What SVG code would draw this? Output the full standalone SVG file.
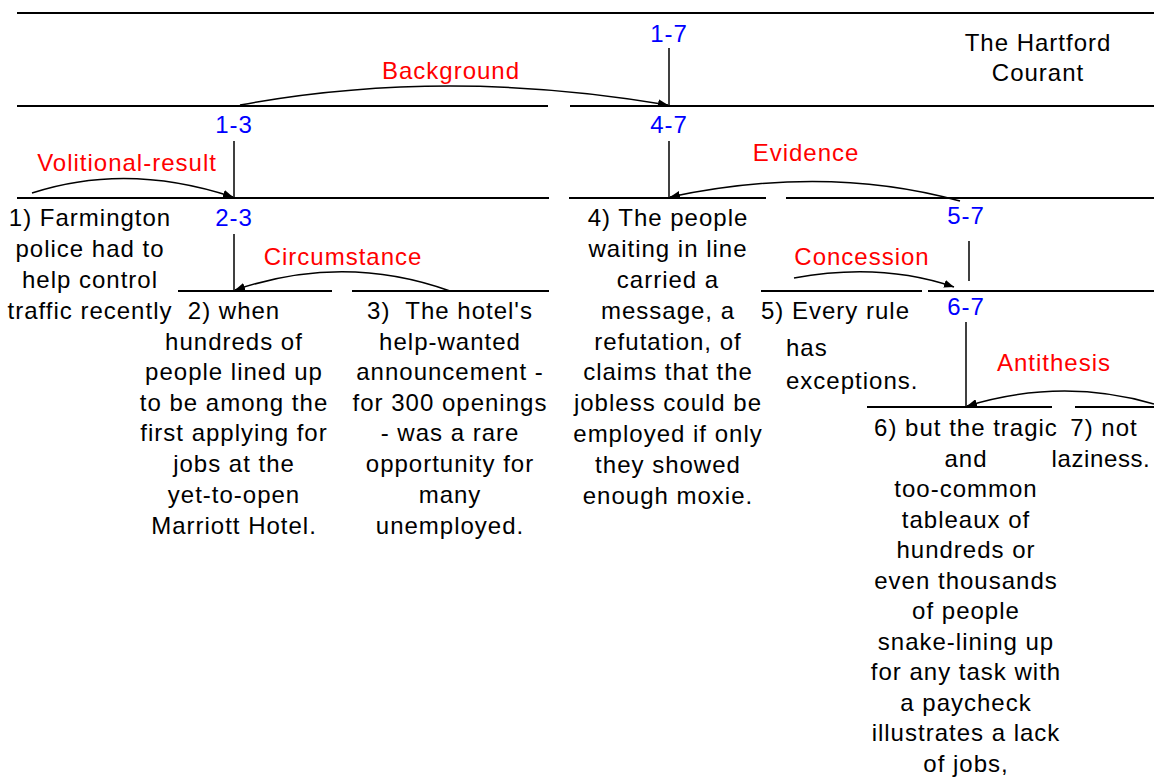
<svg xmlns="http://www.w3.org/2000/svg" width="1154" height="778" viewBox="0 0 1154 778">
<style>
text{font-family:"Liberation Sans",Arial,sans-serif;font-size:24px;letter-spacing:1px;text-anchor:middle;fill:#000}
.span{fill:#0000ff}
.rel{fill:#ff0000}
.h{stroke:#000;stroke-width:2;fill:none}
.v{stroke:#000;stroke-width:1.5;fill:none}
.arc{stroke:#000;stroke-width:1.5;fill:none;marker-end:url(#ah)}
</style>
<defs>
<marker id="ah" viewBox="0 0 10 8" refX="10" refY="4" markerWidth="10" markerHeight="8" markerUnits="userSpaceOnUse" orient="auto">
<path d="M0,0 L10,4 L0,8 z" fill="#000"/>
</marker>
</defs>
<rect width="1154" height="778" fill="#fff"/>
<g id="title">
<text x="1038" y="51">The Hartford</text>
<text x="1038" y="81">Courant</text>
</g>
<g id="lines">
<line class="h" x1="17" y1="13" x2="1154" y2="13"/>
<line class="h" x1="17" y1="106" x2="548" y2="106"/>
<line class="h" x1="570" y1="106" x2="1154" y2="106"/>
<line class="h" x1="17" y1="198" x2="549" y2="198"/>
<line class="h" x1="569" y1="198" x2="766" y2="198"/>
<line class="h" x1="786" y1="198" x2="1154" y2="198"/>
<line class="h" x1="178" y1="291" x2="332" y2="291"/>
<line class="h" x1="352" y1="291" x2="549" y2="291"/>
<line class="h" x1="761" y1="291" x2="922" y2="291"/>
<line class="h" x1="928" y1="291" x2="1154" y2="291"/>
<line class="h" x1="867" y1="407" x2="1052" y2="407"/>
<line class="h" x1="1075" y1="407" x2="1154" y2="407"/>
</g>
<g id="span-1-7">
<text class="span" x="669" y="42">1-7</text>
<line class="v" x1="669" y1="48" x2="669" y2="106"/>
</g>
<g id="span-1-3">
<text class="span" x="234" y="133">1-3</text>
<line class="v" x1="234" y1="141" x2="234" y2="198"/>
</g>
<g id="span-4-7">
<text class="span" x="669" y="133">4-7</text>
<line class="v" x1="669" y1="141" x2="669" y2="198"/>
</g>
<g id="span-2-3">
<text class="span" x="234" y="226">2-3</text>
<line class="v" x1="234" y1="234" x2="234" y2="291"/>
</g>
<g id="span-5-7">
<text class="span" x="966" y="224">5-7</text>
<line class="v" x1="969" y1="241" x2="969" y2="281"/>
</g>
<g id="span-6-7">
<text class="span" x="966" y="315">6-7</text>
<line class="v" x1="966" y1="322" x2="966" y2="407"/>
</g>
<g id="connectors">
<path class="arc" d="M240,105 Q446,67 668,105"/>
<text class="rel" x="451" y="79">Background</text>
<path class="arc" d="M32,193 Q127,162 233,197"/>
<text class="rel" x="127" y="171">Volitional-result</text>
<path class="arc" d="M960,201 Q826,164 670,197"/>
<text class="rel" x="806" y="161">Evidence</text>
<path class="arc" d="M450,291 Q344,253 235,290"/>
<text class="rel" x="343" y="265">Circumstance</text>
<path class="arc" d="M794,278 Q881,262 954,287"/>
<text class="rel" x="862" y="265">Concession</text>
<path class="arc" d="M1154,404 Q1062,377 967,406"/>
<text class="rel" x="1054" y="371">Antithesis</text>
</g>
<g id="seg-1">
<text x="90" y="226">1) Farmington</text>
<text x="90" y="257">police had to</text>
<text x="90" y="288">help control</text>
<text x="90" y="319">traffic recently</text>
</g>
<g id="seg-2">
<text x="234" y="319">2) when</text>
<text x="234" y="350">hundreds of</text>
<text x="234" y="380">people lined up</text>
<text x="234" y="411">to be among the</text>
<text x="234" y="441">first applying for</text>
<text x="234" y="472">jobs at the</text>
<text x="234" y="503">yet-to-open</text>
<text x="234" y="534">Marriott Hotel.</text>
</g>
<g id="seg-3">
<text x="450" y="319" xml:space="preserve" style="white-space:pre">3)  The hotel's</text>
<text x="450" y="350">help-wanted</text>
<text x="450" y="380">announcement -</text>
<text x="450" y="411">for 300 openings</text>
<text x="450" y="441">- was a rare</text>
<text x="450" y="472">opportunity for</text>
<text x="450" y="503">many</text>
<text x="450" y="534">unemployed.</text>
</g>
<g id="seg-4">
<text x="668" y="226">4) The people</text>
<text x="668" y="257">waiting in line</text>
<text x="668" y="288">carried a</text>
<text x="668" y="319">message, a</text>
<text x="668" y="350">refutation, of</text>
<text x="668" y="380">claims that the</text>
<text x="668" y="411">jobless could be</text>
<text x="668" y="442">employed if only</text>
<text x="668" y="473">they showed</text>
<text x="668" y="504">enough moxie.</text>
</g>
<g id="seg-5">
<text x="761" y="319" style="text-anchor:start">5) Every rule</text>
<text x="786" y="356" style="text-anchor:start">has</text>
<text x="786" y="389" style="text-anchor:start">exceptions.</text>
</g>
<g id="seg-6">
<text x="966" y="436">6) but the tragic</text>
<text x="966" y="467">and</text>
<text x="966" y="497">too-common</text>
<text x="966" y="528">tableaux of</text>
<text x="966" y="558">hundreds or</text>
<text x="966" y="589">even thousands</text>
<text x="966" y="619">of people</text>
<text x="966" y="650">snake-lining up</text>
<text x="966" y="680">for any task with</text>
<text x="966" y="711">a paycheck</text>
<text x="966" y="741">illustrates a lack</text>
<text x="966" y="772">of jobs,</text>
</g>
<g id="seg-7">
<text x="1104" y="436">7) not</text>
<text x="1101" y="467" style="letter-spacing:0.6px">laziness.</text>
</g>
</svg>
